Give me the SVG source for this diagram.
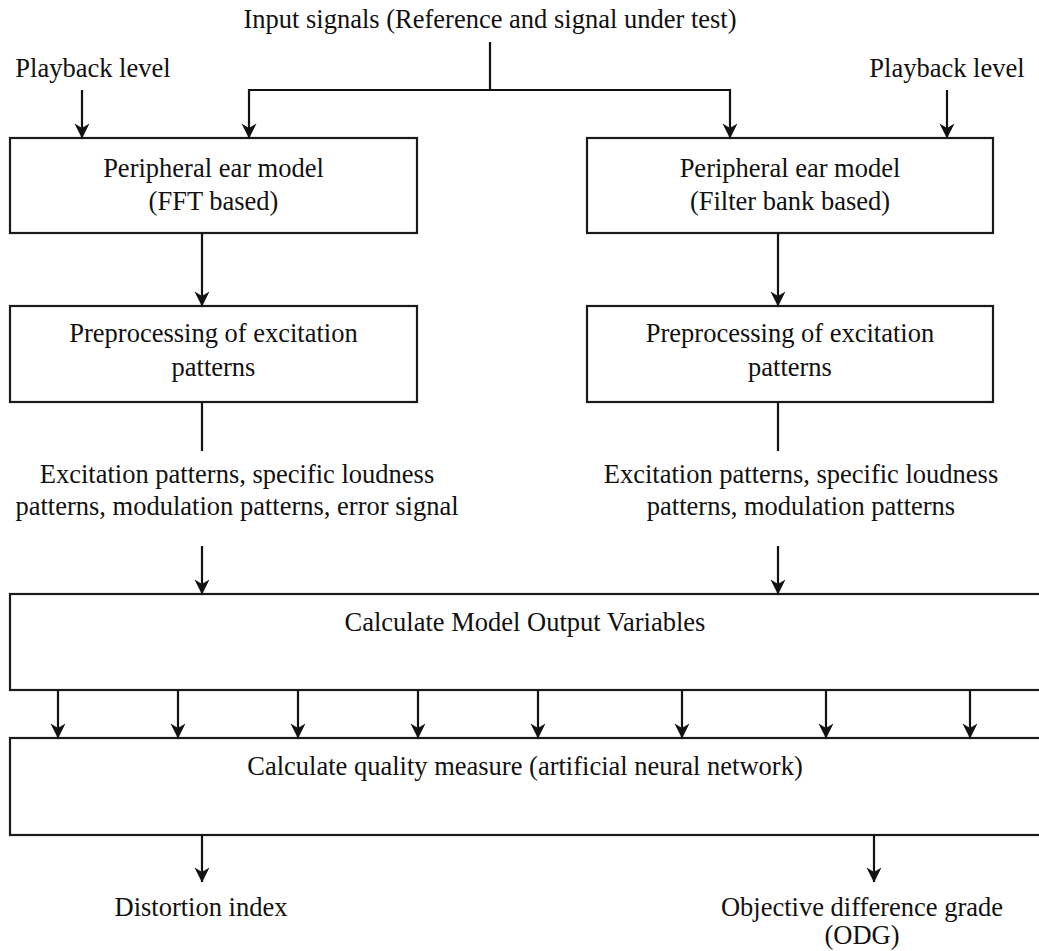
<svg xmlns="http://www.w3.org/2000/svg" width="1039" height="951" viewBox="0 0 1039 951">
  <style>
    text { font-family: "Liberation Serif", "Times New Roman", serif; font-size: 26.5px; fill: #111; text-anchor: middle; }
    .box { fill: #fff; stroke: #1a1a1a; stroke-width: 2.2; }
    .wire { fill: none; stroke: #111; stroke-width: 2.2; }
    .arrow { fill: none; stroke: #111; stroke-width: 2.2; marker-end: url(#head); }
  </style>
  <defs>
    <!-- barbed arrowhead; tip sits on the path end -->
    <marker id="head" viewBox="0 0 16 16" refX="15.5" refY="8" markerWidth="16" markerHeight="16" markerUnits="userSpaceOnUse" orient="auto">
      <path d="M16,8 L1,0.5 L5.5,8 L1,15.5 Z" fill="#111"/>
    </marker>
  </defs>
  <rect width="1039" height="951" fill="#fff"/>

  <!-- free-standing labels -->
  <g id="input-label"><text x="490" y="28">Input signals (Reference and signal under test)</text></g>
  <g id="playback-left"><text x="93" y="77">Playback level</text></g>
  <g id="playback-right"><text x="947" y="77">Playback level</text></g>

  <!-- left branch -->
  <g id="ear-fft">
    <rect class="box" x="10" y="138" width="407" height="95"/>
    <text x="213.5" y="177">Peripheral ear model</text>
    <text x="213.5" y="210">(FFT based)</text>
  </g>
  <g id="prep-left">
    <rect class="box" x="10" y="306" width="407" height="96"/>
    <text x="213.5" y="342">Preprocessing of excitation</text>
    <text x="213.5" y="376">patterns</text>
  </g>
  <g id="patterns-left">
    <text x="237" y="483">Excitation patterns, specific loudness</text>
    <text x="237" y="515">patterns, modulation patterns, error signal</text>
  </g>

  <!-- right branch -->
  <g id="ear-filterbank">
    <rect class="box" x="587" y="138" width="406" height="95"/>
    <text x="790" y="177">Peripheral ear model</text>
    <text x="790" y="210">(Filter bank based)</text>
  </g>
  <g id="prep-right">
    <rect class="box" x="587" y="306" width="406" height="96"/>
    <text x="790" y="342">Preprocessing of excitation</text>
    <text x="790" y="376">patterns</text>
  </g>
  <g id="patterns-right">
    <text x="801" y="483">Excitation patterns, specific loudness</text>
    <text x="801" y="515">patterns, modulation patterns</text>
  </g>

  <!-- wide stages (run past the right edge) -->
  <g id="movs">
    <rect class="box" x="10" y="594" width="1040" height="96"/>
    <text x="525" y="631">Calculate Model Output Variables</text>
  </g>
  <g id="ann">
    <rect class="box" x="10" y="738" width="1040" height="97"/>
    <text x="525" y="775">Calculate quality measure (artificial neural network)</text>
  </g>

  <!-- outputs -->
  <g id="di-label"><text x="201" y="916">Distortion index</text></g>
  <g id="odg-label">
    <text x="862" y="916">Objective difference grade</text>
    <text x="862" y="944">(ODG)</text>
  </g>

  <!-- connectors -->
  <g id="connectors">
    <path class="wire" d="M490,42 V90"/>
    <path class="wire" d="M249,90 H730"/>
    <path class="arrow" d="M249,89 V138"/>
    <path class="arrow" d="M730,89 V138"/>
    <path class="arrow" d="M82,90 V138"/>
    <path class="arrow" d="M947,90 V138"/>

    <path class="arrow" d="M202,234 V306"/>
    <path class="arrow" d="M778,234 V306"/>
    <path class="wire" d="M202,402 V451"/>
    <path class="wire" d="M778,402 V451"/>
    <path class="arrow" d="M202,546 V594"/>
    <path class="arrow" d="M778,546 V594"/>

    <path class="arrow" d="M58,690 V738"/>
    <path class="arrow" d="M178,690 V738"/>
    <path class="arrow" d="M298,690 V738"/>
    <path class="arrow" d="M418,690 V738"/>
    <path class="arrow" d="M538,690 V738"/>
    <path class="arrow" d="M682,690 V738"/>
    <path class="arrow" d="M826,690 V738"/>
    <path class="arrow" d="M970,690 V738"/>

    <path class="arrow" d="M202,835 V882"/>
    <path class="arrow" d="M874,835 V882"/>
  </g>
</svg>
